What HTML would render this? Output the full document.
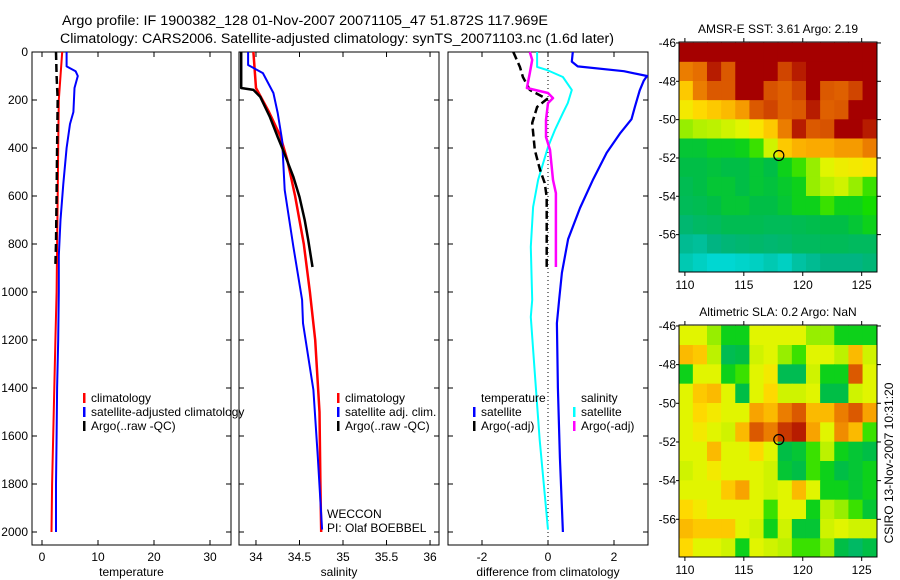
<!DOCTYPE html>
<html><head><meta charset="utf-8">
<style>
html,body{margin:0;padding:0;background:#fff;}
svg{display:block;font-family:"Liberation Sans",sans-serif;}
</style></head>
<body>
<svg id="fig" width="900" height="580" viewBox="0 0 900 580"></svg>
<script>
// ---------- profile data ----------
const tClimDepth=[0,100,200,400,600,800,1000,1200,1400,1600,1800,2000];
const tClimVal=[3.6,3.3,3.0,2.9,2.8,2.7,2.6,2.4,2.2,2.0,1.8,1.7];
const tSatDepth=[0,60,80,100,150,250,300,400,550,700,850,1000,1200,1400,1600,1800,2000];
const tSatVal=[4.4,4.4,6.0,6.4,5.8,5.6,5.0,4.4,3.8,3.3,3.0,3.0,2.9,2.7,2.6,2.5,2.5];
const tArgoDepth=[0,100,200,400,600,800,890];
const tArgoVal=[2.5,2.6,2.8,2.7,2.6,2.5,2.4];

const sClimDepth=[0,150,250,350,450,600,800,1000,1200,1500,1800,2000];
const sClimVal=[33.97,34.0,34.15,34.28,34.36,34.45,34.55,34.62,34.68,34.73,34.74,34.75];
const sSatDepth=[0,54,88,171,254,367,575,812,1033,1130,1408,1687,1990];
const sSatVal=[33.91,33.91,34.08,34.2,34.25,34.3,34.33,34.43,34.53,34.54,34.66,34.71,34.76];
const sArgoDepth=[0,150,158,187,271,354,408,521,604,700,783,896];
const sArgoVal=[33.83,33.83,33.97,34.05,34.16,34.25,34.31,34.43,34.5,34.56,34.6,34.65];

const dTSatDepth=[0,40,60,80,100,120,160,230,280,340,420,530,650,780,920,1030,1130,1400,1690,2000];
const dTSatVal=[0.75,0.72,0.9,2.3,3.0,2.9,2.78,2.63,2.53,2.18,1.78,1.37,0.97,0.61,0.42,0.34,0.27,0.3,0.36,0.45];
const dSSatDepth=[0,62,75,104,158,213,254,325,396,533,646,812,1033,1104,1338,1617,1990];
const dSSatVal=[-0.33,-0.33,-0.03,0.45,0.72,0.6,0.45,0.21,0,-0.3,-0.45,-0.52,-0.48,-0.52,-0.4,-0.25,0];
const dTArgoDepth=[0,62,104,158,187,196,229,296,408,492,546,604,896];
const dTArgoVal=[-1.05,-0.85,-0.76,-0.55,-0.15,-0.03,-0.33,-0.48,-0.4,-0.24,-0.1,-0.04,-0.04];
const dSArgoDepth=[0,33,88,150,171,192,213,283,354,408,533,588,896];
const dSArgoVal=[-0.55,-0.48,-0.55,-0.64,0,0.15,0,-0.06,-0.06,0.06,0.15,0.24,0.24];

const depthTicks=[0,200,400,600,800,1000,1200,1400,1600,1800,2000];
const tempTicks=[0,10,20,30];
const salTicks=[34,34.5,35,35.5,36];
const salTickLabels=["34","34.5","35","35.5","36"];
const diffTicks=[-2,0,2];
const diffTickLabels=["-2","0","2"];

// ---------- map data (rows: lat -46.5 .. -57.5, cols: lon 110.1 .. 125.7) ----------
const mapLonCenters=[110.1,111.3,112.5,113.7,114.9,116.1,117.3,118.5,119.7,120.9,122.1,123.3,124.5,125.7];
const mapLatCenters=[-46.5,-47.5,-48.5,-49.5,-50.5,-51.5,-52.5,-53.5,-54.5,-55.5,-56.5,-57.5];
const sstGrid=[
[1,1,1,1,1,1,1,1,1,1,1,1,1,1],
[0.8,0.82,0.95,0.85,1,1,1,0.88,0.95,1,1,1,1,1],
[0.7,0.8,0.85,0.85,1,1,0.86,0.84,0.88,1,0.85,0.84,0.88,1],
[0.65,0.68,0.7,0.72,0.76,0.85,0.88,0.84,0.85,0.95,0.84,0.85,1,1],
[0.55,0.57,0.58,0.6,0.62,0.66,0.7,0.8,0.95,0.85,0.86,1,1,0.95],
[0.42,0.42,0.44,0.44,0.45,0.5,0.6,0.7,0.73,0.74,0.74,0.76,0.76,0.8],
[0.4,0.4,0.41,0.4,0.4,0.42,0.4,0.45,0.5,0.55,0.62,0.64,0.65,0.66],
[0.38,0.4,0.42,0.42,0.4,0.42,0.41,0.43,0.45,0.55,0.58,0.6,0.55,0.5],
[0.37,0.38,0.4,0.42,0.42,0.4,0.4,0.42,0.45,0.45,0.5,0.45,0.45,0.48],
[0.33,0.35,0.36,0.38,0.38,0.38,0.37,0.37,0.38,0.39,0.4,0.4,0.42,0.45],
[0.28,0.27,0.3,0.32,0.33,0.34,0.33,0.34,0.36,0.36,0.37,0.37,0.36,0.36],
[0.24,0.22,0.2,0.2,0.21,0.22,0.24,0.22,0.26,0.28,0.3,0.3,0.3,0.32]];
const slaGrid=[
[0.62,0.62,0.55,0.45,0.45,0.62,0.62,0.62,0.62,0.55,0.55,0.45,0.45,0.45],
[0.72,0.7,0.58,0.38,0.4,0.6,0.62,0.55,0.5,0.62,0.62,0.58,0.72,0.6],
[0.45,0.62,0.62,0.45,0.5,0.62,0.65,0.38,0.38,0.6,0.45,0.45,0.85,0.62],
[0.62,0.7,0.72,0.62,0.4,0.62,0.68,0.6,0.6,0.62,0.4,0.4,0.6,0.62],
[0.62,0.68,0.65,0.62,0.62,0.75,0.72,0.8,0.85,0.72,0.72,0.8,0.85,0.75],
[0.62,0.65,0.62,0.6,0.72,0.85,0.8,0.9,0.95,0.75,0.62,0.78,0.72,0.5],
[0.62,0.62,0.72,0.62,0.62,0.68,0.62,0.4,0.42,0.5,0.58,0.45,0.42,0.4],
[0.6,0.62,0.65,0.62,0.62,0.62,0.6,0.42,0.4,0.5,0.45,0.4,0.42,0.45],
[0.62,0.62,0.62,0.7,0.75,0.62,0.6,0.62,0.72,0.62,0.45,0.45,0.42,0.45],
[0.68,0.65,0.62,0.62,0.62,0.62,0.5,0.62,0.62,0.45,0.58,0.55,0.5,0.42],
[0.72,0.7,0.7,0.7,0.62,0.6,0.45,0.6,0.42,0.42,0.6,0.62,0.6,0.6],
[0.68,0.62,0.62,0.6,0.45,0.62,0.6,0.58,0.5,0.5,0.55,0.4,0.35,0.4]];
const mapLonTicks=[110,115,120,125];
const mapLatTicks=[-46,-48,-50,-52,-54,-56];
const mapLatTickLabels=["-46","-48","-50","-52","-54","-56"];
const floatLon=[117.969];
const floatLat=[-51.872];

const NS="http://www.w3.org/2000/svg";
const svg=document.getElementById('fig');
function mk(tag,attrs,parent){const e=document.createElementNS(NS,tag);for(const k in attrs)e.setAttribute(k,attrs[k]);(parent||svg).appendChild(e);return e;}
function txt(s,attrs,parent){const e=mk('text',attrs,parent);e.textContent=s;return e;}

// axes
const PT=52,PB=545;
const yD=d=>52+d*0.24;
const panels=[
 {name:'temperature',x0:32,x1:231,vmin:-1.786,vmax:33.75},
 {name:'salinity',x0:239,x1:439,vmin:33.805,vmax:36.103},
 {name:'difference',x0:448,x1:648,vmin:-3.03,vmax:3.03}];
function xf(p){return v=>p.x0+(v-p.vmin)/(p.vmax-p.vmin)*(p.x1-p.x0);}

// titles
let t=txt('Argo profile: IF 1900382_128 01-Nov-2007 20071105_47 51.872S 117.969E',{x:62,y:25,'font-size':13.5,textLength:486,lengthAdjust:'spacingAndGlyphs'});

t=txt('Climatology: CARS2006. Satellite-adjusted climatology: synTS_20071103.nc (1.6d later)',{x:60,y:43,'font-size':13.5,textLength:554,lengthAdjust:'spacingAndGlyphs'});


// depth tick labels
depthTicks.forEach(d=>{const e=txt(String(d),{x:28,y:yD(d)+4,'font-size':12,'text-anchor':'end'});
});

function drawPanel(p,ticks,labels,xlabel){
 const g=mk('g',{});
 
 const fx=xf(p);
 const fr=mk('rect',{x:p.x0,y:PT,width:p.x1-p.x0,height:PB-PT,fill:'none',stroke:'#000','stroke-width':1},g);
 
 depthTicks.forEach(d=>{const y=yD(d);
  mk('line',{x1:p.x0,x2:p.x0+5,y1:y,y2:y,stroke:'#000'},g);
  mk('line',{x1:p.x1-5,x2:p.x1,y1:y,y2:y,stroke:'#000'},g);});
 ticks.forEach((v,i)=>{const x=fx(v);
  mk('line',{x1:x,x2:x,y1:PB,y2:PB-5,stroke:'#000'},g);
  mk('line',{x1:x,x2:x,y1:PT,y2:PT+5,stroke:'#000'},g);
  const l=txt(labels[i],{x:x,y:561,'font-size':12,'text-anchor':'middle'},g);
  });
 const xl=txt(xlabel,{x:(p.x0+p.x1)/2,y:576,'font-size':12,'text-anchor':'middle'},g);
 
 return g;
}
const g1=drawPanel(panels[0],tempTicks,tempTicks.map(String),'temperature');
const g2=drawPanel(panels[1],salTicks,salTickLabels,'salinity');
const g3=drawPanel(panels[2],diffTicks,diffTickLabels,'difference from climatology');
// zero line
const zx=xf(panels[2])(0);
const zl=mk('line',{x1:zx,x2:zx,y1:PT,y2:PB,stroke:'#000','stroke-width':1,'stroke-dasharray':'1,3'},g3);


function series(g,p,depths,vals,color,w,dash,name){
 const fx=xf(p);
 const pts=depths.map((d,i)=>fx(vals[i]).toFixed(1)+','+yD(d).toFixed(1)).join(' ');
 const a={points:pts,fill:'none',stroke:color,'stroke-width':w,'stroke-linejoin':'round'};
 if(dash)a['stroke-dasharray']=dash;
 const e=mk('polyline',a,g);
 
}
series(g1,panels[0],tSatDepth,tSatVal,'#0000ff',2,null,'temp-satellite-line');
series(g1,panels[0],tClimDepth,tClimVal,'#ff0000',2,null,'temp-climatology-line');
series(g1,panels[0],tArgoDepth,tArgoVal,'#000',2.5,'8,4','temp-argo-line');
series(g2,panels[1],sClimDepth,sClimVal,'#ff0000',2.5,null,'sal-climatology-line');
series(g2,panels[1],sSatDepth,sSatVal,'#0000ff',2,null,'sal-satellite-line');
series(g2,panels[1],sArgoDepth,sArgoVal,'#000',2.5,null,'sal-argo-line');
series(g3,panels[2],dTSatDepth,dTSatVal,'#0000ff',2.2,null,'diff-temp-satellite-line');
series(g3,panels[2],dSSatDepth,dSSatVal,'#00ffff',2,null,'diff-sal-satellite-line');
series(g3,panels[2],dTArgoDepth,dTArgoVal,'#000',2.5,'8,4','diff-temp-argo-line');
series(g3,panels[2],dSArgoDepth,dSArgoVal,'#ff00ff',2.5,null,'diff-sal-argo-line');

function legendEntry(x,y,color,label,name){
 const g=mk('g',{});
 
 if(color)mk('rect',{x:x,y:y-9,width:2.5,height:10,fill:color},g);
 txt(label,{x:x+8,y:y,'font-size':12},g);
}
legendEntry(83,402,'#ff0000','climatology','legend-entry-climatology');
legendEntry(83,416,'#0000ff','satellite-adjusted climatology','legend-entry-satellite-adjusted');
legendEntry(83,430,'#000','Argo(..raw -QC)','legend-entry-argo');
legendEntry(337,402,'#ff0000','climatology','legend-entry-sal-climatology');
legendEntry(337,416,'#0000ff','satellite adj. clim.','legend-entry-sal-satellite');
legendEntry(337,430,'#000','Argo(..raw -QC)','legend-entry-sal-argo');
legendEntry(473,402,null,'temperature','legend-heading-temperature');
legendEntry(473,416,'#0000ff','satellite','legend-entry-diff-temp-satellite');
legendEntry(473,430,'#000','Argo(-adj)','legend-entry-diff-temp-argo');
legendEntry(573,402,null,'salinity','legend-heading-salinity');
legendEntry(573,416,'#00ffff','satellite','legend-entry-diff-sal-satellite');
legendEntry(573,430,'#ff00ff','Argo(-adj)','legend-entry-diff-sal-argo');
t=txt('WECCON',{x:327,y:518,'font-size':12});
t=txt('PI: Olaf BOEBBEL',{x:327,y:532,'font-size':12});

// colormap
const stops=[[0.2,[0,215,210]],[0.3,[0,180,130]],[0.4,[0,190,70]],[0.48,[20,220,0]],[0.56,[170,240,0]],[0.62,[225,245,0]],[0.67,[255,225,0]],[0.74,[250,170,0]],[0.82,[230,110,0]],[0.9,[200,55,0]],[1.0,[165,0,0]]];
function cmap(v){
 if(v<=stops[0][0])return 'rgb('+stops[0][1]+')';
 for(let i=1;i<stops.length;i++){if(v<=stops[i][0]){const a=stops[i-1],b=stops[i];const f=(v-a[0])/(b[0]-a[0]);
  return 'rgb('+a[1].map((c,k)=>Math.round(c+(b[1][k]-c)*f)).join(',')+')';}}
 return 'rgb('+stops[stops.length-1][1]+')';
}
function drawMap(top,bottom,grid,title,name){
 const L=679,R=877;
 const lonMin=109.5,lonMax=126.3,latTop=-45.95,latBot=-57.95;
 const fx=lon=>L+(lon-lonMin)/(lonMax-lonMin)*(R-L);
 const fy=lat=>top+(latTop-lat)/(latTop-latBot)*(bottom-top);
 const g=mk('g',{});
 
 const cid='clip'+name;
 const cp=mk('clipPath',{id:cid},g);mk('rect',{x:L,y:top,width:R-L,height:bottom-top},cp);
 const cg=mk('g',{'clip-path':'url(#'+cid+')'},g);
 const dl=1.2,dt=1.0;
 grid.forEach((row,r)=>row.forEach((v,c)=>{
  const x0=fx(mapLonCenters[c]-dl/2),x1=fx(mapLonCenters[c]+dl/2);
  const y0=fy(mapLatCenters[r]+dt/2),y1=fy(mapLatCenters[r]-dt/2);
  const e=mk('rect',{x:x0-0.3,y:y0-0.3,width:x1-x0+0.6,height:y1-y0+0.6,fill:cmap(v)},cg);
  
  
 }));
 mk('rect',{x:L,y:top,width:R-L,height:bottom-top,fill:'none',stroke:'#000'},g);
 mapLonTicks.forEach(lon=>{const x=fx(lon);
  mk('line',{x1:x,x2:x,y1:bottom,y2:bottom+4,stroke:'#000'},g);
  mk('line',{x1:x,x2:x,y1:top,y2:top-4,stroke:'#000'},g);
  const l=txt(String(lon),{x:x,y:bottom+17,'font-size':12,'text-anchor':'middle'},g);
  });
 mapLatTicks.forEach((lat,i)=>{const y=fy(lat);
  mk('line',{x1:L,x2:L-3,y1:y,y2:y,stroke:'#000'},g);
  mk('line',{x1:R,x2:R+4,y1:y,y2:y,stroke:'#000'},g);
  const l=txt(mapLatTickLabels[i],{x:676,y:y+4,'font-size':12,'text-anchor':'end'},g);
  });
 const tt=txt(title,{x:(L+R)/2,y:top-9,'font-size':12,'text-anchor':'middle'},g);
 
 const m=mk('circle',{cx:fx(floatLon[0]),cy:fy(floatLat[0]),r:5,fill:'none',stroke:'#000','stroke-width':1.2},g);
 
}
drawMap(42,272,sstGrid,'AMSR-E SST: 3.61 Argo: 2.19','sst-map');
drawMap(325,557,slaGrid,'Altimetric SLA: 0.2 Argo: NaN','sla-map');
t=txt('CSIRO 13-Nov-2007 10:31:20',{x:0,y:0,'font-size':12,'text-anchor':'middle',transform:'translate(893,463) rotate(-90)'});

</script>
</body></html>
